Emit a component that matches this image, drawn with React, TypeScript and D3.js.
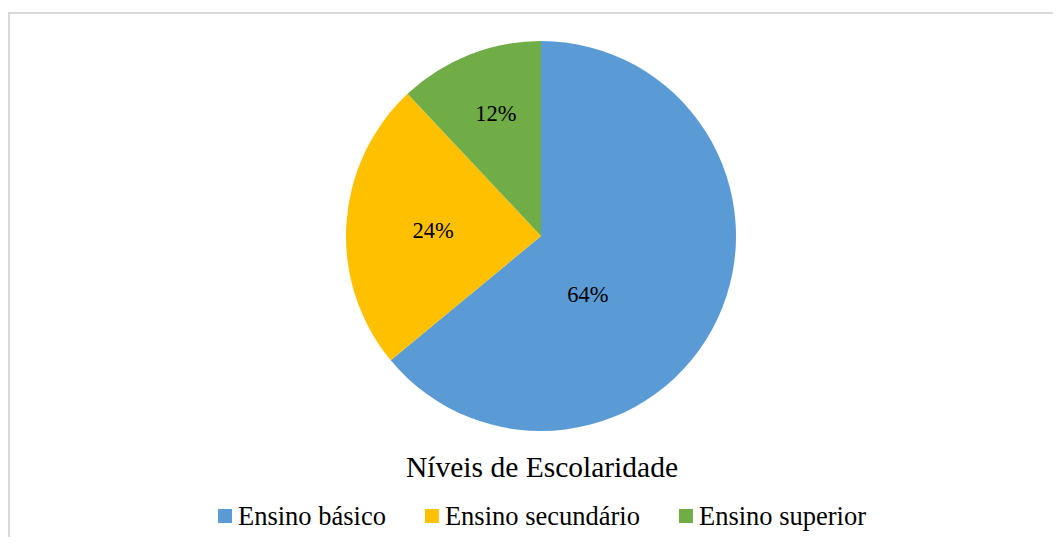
import { useEffect, useRef } from "react";
import * as d3 from "d3";

// Dados do gráfico
const categorias = ["Ensino básico", "Ensino secundário", "Ensino superior"];
const valores = [64, 24, 12];
const cores = ["#5B9BD5", "#FFC000", "#70AD47"];
const titulo = "Níveis de Escolaridade";

// posição dos rótulos (fração do raio) – colocação "best fit" do Excel
const posRotulos: [number, number][] = [
  [0.24, 0.3],
  [-0.553, -0.03],
  [-0.232, -0.63]
];

const W = 1053;
const H = 529;
const FONT = "'Liberation Serif', 'Times New Roman', serif";

export default function App() {
  const svgRef = useRef<SVGSVGElement>(null);

  useEffect(() => {
    if (!svgRef.current) return;
    const svg = d3.select(svgRef.current);
    svg.selectAll("*").remove();

    // Borda da área do gráfico
    svg
      .append("rect")
      .attr("x", 1)
      .attr("y", 5)
      .attr("width", W + 20)
      .attr("height", H + 20)
      .attr("fill", "#fff")
      .attr("stroke", "#D9D9D9")
      .attr("stroke-width", 2);

    const cx = 533;
    const cy = 228;
    const r = 195;

    const total = d3.sum(valores);
    const pie = d3
      .pie<number>()
      .sort(null)
      .value((d) => d);
    const arcs = pie(valores);
    const arc = d3.arc<d3.PieArcDatum<number>>().innerRadius(0).outerRadius(r);

    const g = svg.append("g").attr("transform", `translate(${cx},${cy})`);

    g.selectAll("path.fatia")
      .data(arcs)
      .enter()
      .append("path")
      .attr("class", "fatia")
      .attr("d", arc)
      .attr("fill", (_, i) => cores[i]);

    // Rótulos de percentagem
    g.selectAll("text.rotulo")
      .data(arcs)
      .enter()
      .append("text")
      .attr("class", "rotulo")
      .attr("x", (_, i) => posRotulos[i][0] * r)
      .attr("y", (_, i) => posRotulos[i][1] * r)
      .attr("dy", "0.35em")
      .attr("text-anchor", "middle")
      .style("font-family", FONT)
      .style("font-size", "22.5px")
      .style("fill", "#000")
      .text((d) => `${Math.round((d.value / total) * 100)}%`);

    // Título (em baixo)
    svg
      .append("text")
      .attr("x", cx + 1)
      .attr("y", 469)
      .attr("text-anchor", "middle")
      .style("font-family", FONT)
      .style("font-size", "29.5px")
      .style("fill", "#000")
      .text(titulo);

    // Legenda
    const sq = 14;
    const gapTxt = 6;
    const gapItem = 39;
    const leg = svg.append("g");
    const itens = categorias.map((c, i) => {
      const it = leg.append("g");
      it.append("rect")
        .attr("y", 501)
        .attr("width", sq)
        .attr("height", sq)
        .attr("fill", cores[i]);
      const t = it
        .append("text")
        .attr("x", sq + gapTxt)
        .attr("y", 517)
        .style("font-family", FONT)
        .style("font-size", "26.5px")
        .style("fill", "#000")
        .text(c);
      const w = (t.node() as SVGTextElement).getComputedTextLength();
      return { it, w: sq + gapTxt + w };
    });
    const totalW =
      d3.sum(itens, (d) => d.w) + gapItem * (itens.length - 1);
    let x = cx + 1 - totalW / 2;
    itens.forEach((d) => {
      d.it.attr("transform", `translate(${x},0)`);
      x += d.w + gapItem;
    });
  }, []);

  return (
    <svg
      ref={svgRef}
      width={W}
      height={H}
      style={{ display: "block", overflow: "hidden" }}
    />
  );
}
